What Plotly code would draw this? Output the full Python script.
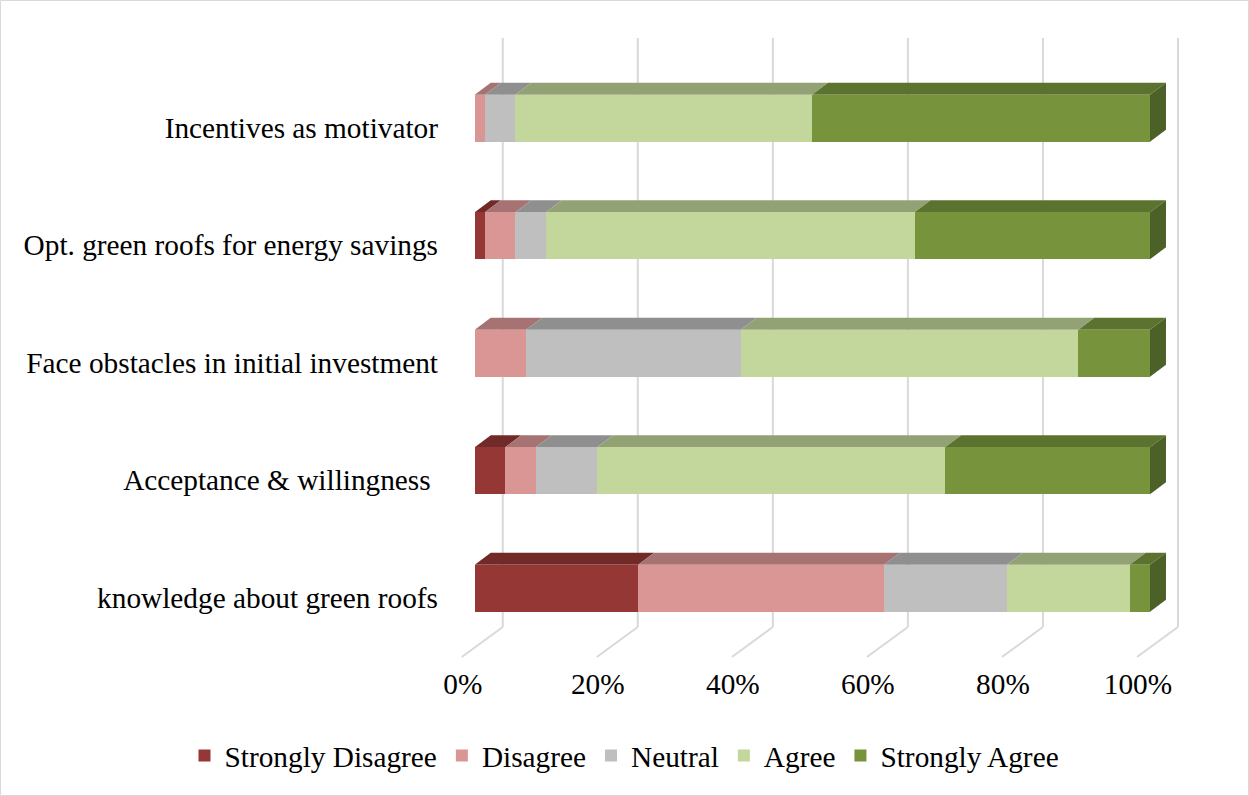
import plotly.graph_objects as go

# Survey statements (bottom to top) and response shares in percent
categories = [
    "knowledge about green roofs",
    "Acceptance & willingness\u00a0",
    "Face obstacles in initial investment",
    "Opt. green roofs for energy savings",
    "Incentives as motivator",
]
levels = ["Strongly Disagree", "Disagree", "Neutral", "Agree", "Strongly Agree"]

strongly_disagree = [24.2, 4.5, 0.0, 1.5, 0.0]
disagree = [36.4, 4.5, 7.6, 4.5, 1.5]
neutral = [18.2, 9.1, 31.8, 4.5, 4.5]
agree = [18.2, 51.5, 50.0, 54.5, 43.9]
strongly_agree = [3.0, 30.3, 10.6, 34.8, 50.0]

x_ticks = [0, 20, 40, 60, 80, 100]
x_tick_text = ["0%", "20%", "40%", "60%", "80%", "100%"]

series = [strongly_disagree, disagree, neutral, agree, strongly_agree]

# Face colours of the pseudo-3D bars
front_colors = ["#953735", "#D99694", "#BFBFBF", "#C3D69B", "#77933C"]
top_colors = ["#722A29", "#A67372", "#8F8F8F", "#93A275", "#5B732E"]
side_colors = ["#5E2322", "#8A5F5E", "#777777", "#7A8761", "#4C6127"]

FONT = "Liberation Serif"
FS = 29.3
W, H = 1249, 796
AX_L, AX_R = 441, 1231          # horizontal extent of the x axis (px)
M_T, M_B = 38, 169
X_RANGE = [-5, 112]
Y_RANGE = [-0.329, 4.683]
BAR_W = 0.4
DEPTH_PX = (16, 12)      # bar depth offset (right, up)
WALL_PX = 28             # back wall offset of the gridlines
FLOOR_PX = (-41, -30)    # floor lines running from wall to front

plot_w = AX_R - AX_L
plot_h = H - M_T - M_B
ppx = plot_w / (X_RANGE[1] - X_RANGE[0])
ppy = plot_h / (Y_RANGE[1] - Y_RANGE[0])
dx = DEPTH_PX[0] / ppx
dy = DEPTH_PX[1] / ppy

ypos = list(range(len(categories)))

fig = go.Figure()
for name, vals, col in zip(levels, series, front_colors):
    fig.add_trace(go.Bar(
        y=ypos, x=vals, name=name, orientation="h", width=BAR_W,
        marker=dict(color=col, line=dict(width=0)),
        hoverinfo="x+name",
    ))

shapes = []
# back-wall gridlines and floor lines
for v in x_ticks:
    shapes.append(dict(type="line", layer="below", xref="x", yref="paper",
                       xsizemode="pixel", xanchor=v, x0=WALL_PX, x1=WALL_PX,
                       y0=0, y1=1, line=dict(color="#D9D9D9", width=2)))
    shapes.append(dict(type="line", layer="below", xref="x", yref="paper",
                       xsizemode="pixel", xanchor=v,
                       x0=WALL_PX, x1=WALL_PX + FLOOR_PX[0],
                       ysizemode="pixel", yanchor=0, y0=0, y1=FLOOR_PX[1],
                       line=dict(color="#D9D9D9", width=2)))

# top and end faces of each stacked bar, from the normalised shares
for i, yc in enumerate(ypos):
    vals = [s[i] for s in series]
    total = sum(vals)
    shares = [100.0 * v / total for v in vals]
    start = 0.0
    last = max(k for k, v in enumerate(shares) if v > 0)
    yt = yc + BAR_W / 2
    yb = yc - BAR_W / 2
    for k, s in enumerate(shares):
        if s <= 0:
            continue
        end = start + s
        path = (f"M{start},{yt} L{start + dx},{yt + dy} "
                f"L{end + dx},{yt + dy} L{end},{yt} Z")
        shapes.append(dict(type="path", layer="below", xref="x", yref="y",
                           path=path, fillcolor=top_colors[k],
                           line=dict(width=0)))
        if k == last:
            side = (f"M{end},{yb} L{end},{yt} L{end + dx},{yt + dy} "
                    f"L{end + dx},{yb + dy} Z")
            shapes.append(dict(type="path", layer="below", xref="x", yref="y",
                               path=side, fillcolor=side_colors[k],
                               line=dict(width=0)))
        start = end

# outer chart border
shapes.append(dict(type="rect", xref="paper", yref="paper",
                   x0=0.5 / W, x1=(W - 0.5) / W,
                   y0=-(M_B - 0.5) / plot_h, y1=1 + (M_T - 0.5) / plot_h,
                   line=dict(color="#D9D9D9", width=1), layer="below"))

fig.update_layout(
    width=W, height=H, autosize=False,
    margin=dict(l=0, r=0, t=M_T, b=M_B, pad=0, autoexpand=False),
    paper_bgcolor="white", plot_bgcolor="white",
    barmode="stack", barnorm="percent", bargap=0,
    font=dict(family=FONT, size=FS, color="black"),
    shapes=shapes,
    showlegend=True,
    legend=dict(orientation="h", xref="container", yref="container",
                x=0.5, xanchor="center", y=1 - 756 / H, yanchor="middle",
                traceorder="normal", font=dict(family=FONT, size=FS),
                itemclick=False, itemdoubleclick=False),
    xaxis=dict(domain=[AX_L / W, AX_R / W], range=X_RANGE,
               tickvals=x_ticks, ticktext=x_tick_text,
               showgrid=False, zeroline=False, showline=False, ticks="",
               ticklabelshift=-12, ticklabelstandoff=37, automargin=False,
               tickfont=dict(family=FONT, size=FS)),
    yaxis=dict(range=Y_RANGE, tickvals=ypos, ticktext=categories,
               showgrid=False, zeroline=False, showline=False, ticks="",
               ticklabelshift=9, ticklabelstandoff=2, automargin=False,
               tickfont=dict(family=FONT, size=FS)),
)

fig.write_html("out.html")
